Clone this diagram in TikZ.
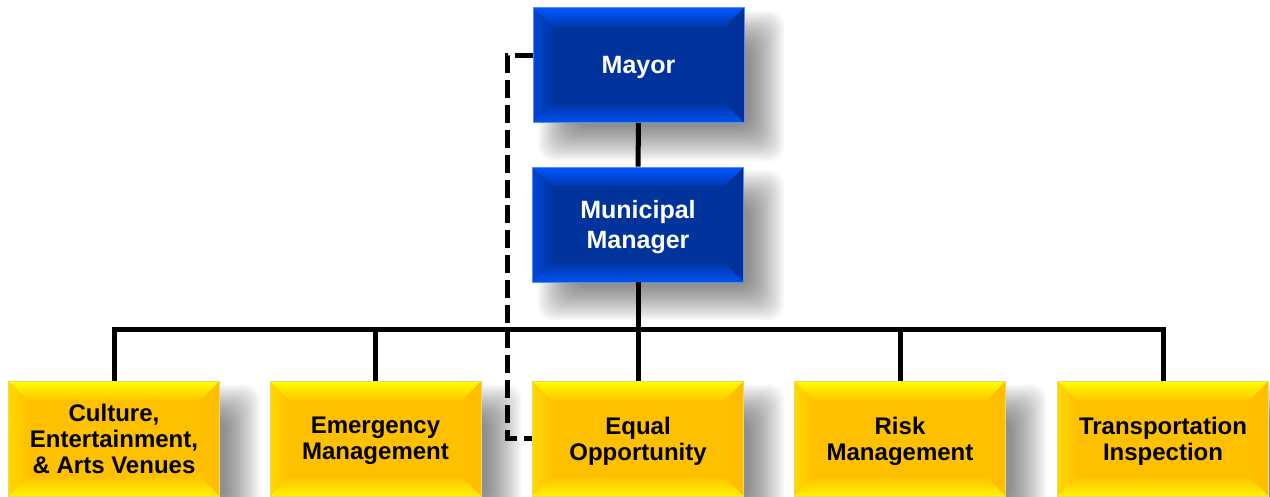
\documentclass[tikz,border=0pt]{standalone}
\usepackage{fontspec}
\setmainfont{Liberation Sans}
\usetikzlibrary{backgrounds,calc}

% blue boxes
\definecolor{bluecore}{HTML}{00339C}
\definecolor{bluetopA}{HTML}{0058FF}
\definecolor{bluetopB}{HTML}{0038B0}
\definecolor{bluesideA}{HTML}{0046D6}
\definecolor{bluesideB}{HTML}{0036A4}
\definecolor{bluerightA}{HTML}{00319A}
\definecolor{bluebotA}{HTML}{0052F0}
\definecolor{bluebotB}{HTML}{0036A6}
\definecolor{bluerim}{HTML}{5A8CF0}
% yellow boxes
\definecolor{yelcore}{HTML}{FFC000}
\definecolor{yeltopA}{HTML}{FFFF00}
\definecolor{yeltopB}{HTML}{FFC800}
\definecolor{yelsideA}{HTML}{FFD800}
\definecolor{yelsideB}{HTML}{FFC200}
\definecolor{yelrightA}{HTML}{FFBE00}
\definecolor{yelbotA}{HTML}{FFF200}
\definecolor{yelbotB}{HTML}{FFC400}
\definecolor{yelrim}{HTML}{E8D870}

% bevelled face: core, top outer/inner, left outer/inner, right outer, bottom outer/inner
\newcommand\bevelpaint[8]{%
  \path (path picture bounding box.north west) coordinate (bvA)
        (path picture bounding box.north east) coordinate (bvB)
        (path picture bounding box.south east) coordinate (bvC)
        (path picture bounding box.south west) coordinate (bvD);
  \path ([shift={(19,19)}]bvA) coordinate (bva)
        ([shift={(-19,19)}]bvB) coordinate (bvb)
        ([shift={(-19,-19)}]bvC) coordinate (bvc)
        ([shift={(19,-19)}]bvD) coordinate (bvd);
  \fill[#1] (bvA) rectangle (bvC);
  \shade[left color=#4, right color=#5] (bvA) -- (bva) -- (bvd) -- (bvD) -- cycle;
  \shade[left color=#1, right color=#6] (bvB) -- (bvb) -- (bvc) -- (bvC) -- cycle;
  \shade[top color=#2, bottom color=#3] (bvA) -- (bvB) -- (bvb) -- (bva) -- cycle;
  \shade[bottom color=#7, top color=#8] (bvD) -- (bvC) -- (bvc) -- (bvd) -- cycle;
}

\tikzset{
  orgbox/.style={rectangle, minimum width=211pt, minimum height=115pt,
    inner sep=0pt, align=center, text depth=0pt, line width=0.8pt},
  bluebox/.style={orgbox, draw=bluerim, text=white,
    font=\fontsize{25}{30.5}\selectfont\bfseries,
    path picture={\bevelpaint{bluecore}{bluetopA}{bluetopB}{bluesideA}{bluesideB}{bluerightA}{bluebotA}{bluebotB}}},
  yelbox/.style={orgbox, draw=yelrim, text=black,
    font=\fontsize{24}{26}\selectfont\bfseries,
    path picture={\bevelpaint{yelcore}{yeltopA}{yeltopB}{yelsideA}{yelsideB}{yelrightA}{yelbotA}{yelbotB}}},
  softshadow/.style={black, fill opacity=0.033, rounded corners=15pt},
  conn/.style={line width=5pt, black},
  dashconn/.style={line width=5pt, black, dash pattern=on 18pt off 7pt}
}

\begin{document}
\begin{tikzpicture}[x=1pt,y=-1pt]
\useasboundingbox (0,0) rectangle (1270,496);

% boxes
\node[bluebox] (mayor) at (638.5,65) {Mayor};
\node[bluebox] (mm) at (638,224.5) {Municipal\\Manager};

\node[yelbox] (cult)  at (114,438.5)  {Culture,\\Entertainment,\\\& Arts Venues};
\node[yelbox] (emerg) at (375.5,438.5) {Emergency\\Management};
\node[yelbox] (equal) at (638,438.5)  {Equal\\Opportunity};
\node[yelbox] (risk)  at (900,438.5)  {Risk\\Management};
\node[yelbox] (trans) at (1163,438.5) {Transportation\\Inspection};

% soft drop shadows, stacked translucent layers behind each box
\begin{scope}[on background layer]
  \foreach \n in {mayor,mm,cult,emerg,equal,risk,trans}
    \foreach \e in {-17,-15,...,17}
      \fill[softshadow] ([shift={(23-\e,21-\e)}]\n.north west)
        rectangle ([shift={(23+\e,21+\e)}]\n.south east);
\end{scope}

% connectors
\coordinate (bus) at (638,329);
\draw[conn] (mayor) -- (mm);
\draw[conn] (mm.south) -- (equal.north);
\draw[conn] (cult.north) |- (bus) -| (trans.north);
\draw[conn] (emerg.north) -- (emerg.north |- bus);
\draw[conn] (risk.north) -- (risk.north |- bus);

% dotted-line reporting
\draw[dashconn] ([yshift=9.5pt]mayor.west) -- ++(-25.5,0) |- (equal.west);
\end{tikzpicture}
\end{document}
